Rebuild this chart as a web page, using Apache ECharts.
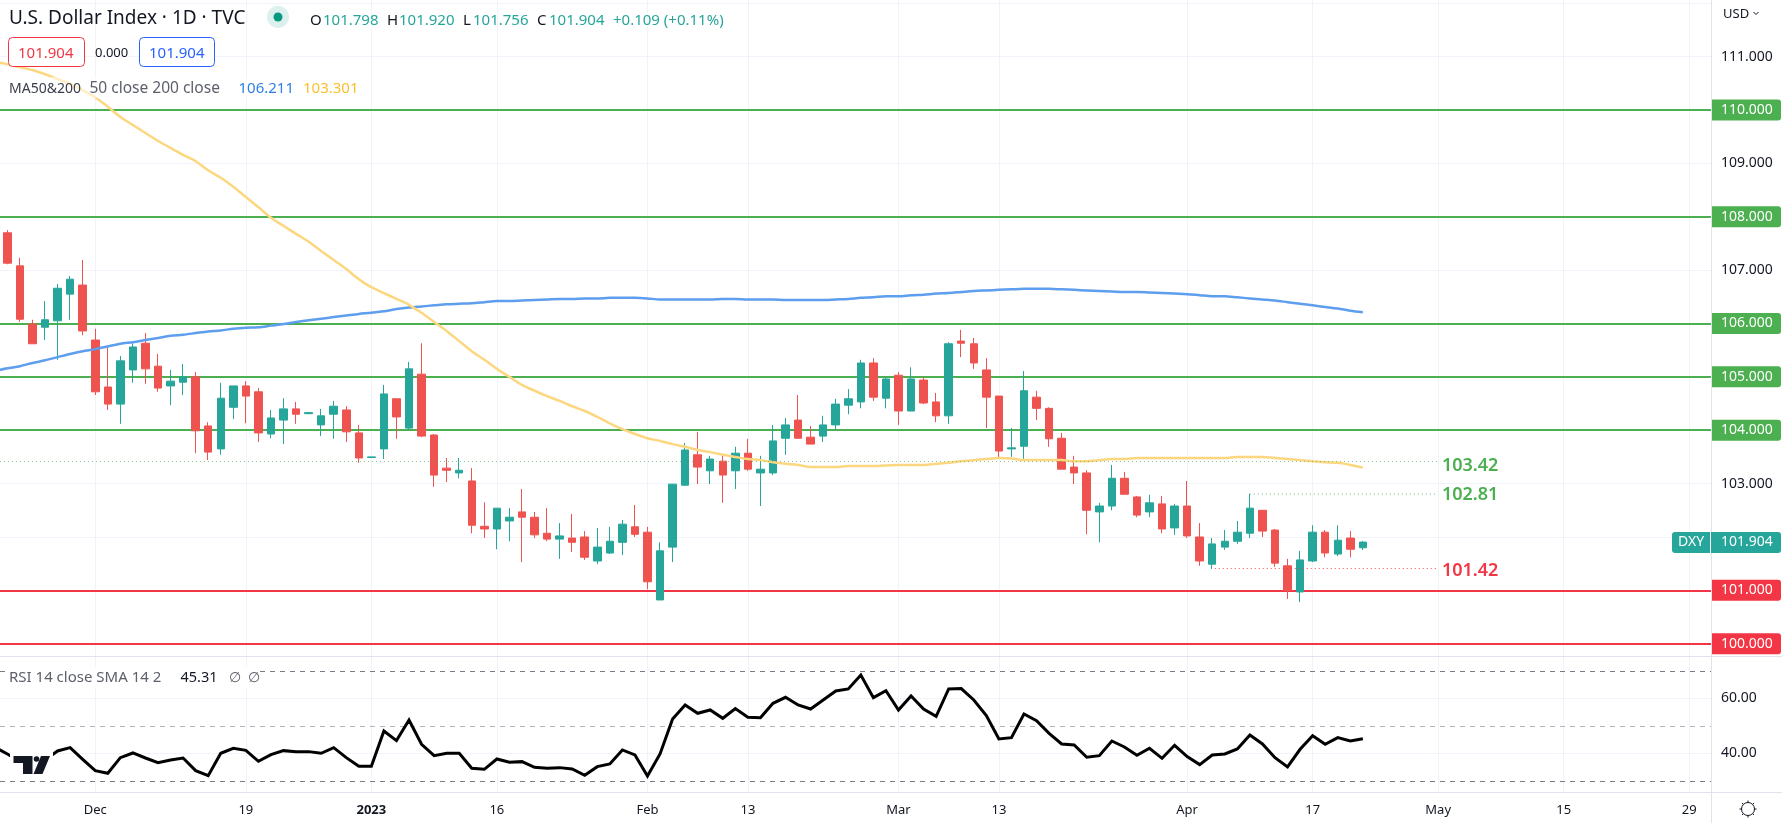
<!DOCTYPE html>
<html>
<head>
<meta charset="utf-8">
<title>U.S. Dollar Index</title>
<script src="https://cdn.jsdelivr.net/npm/echarts@6/dist/echarts.min.js"></script>
<style>
  html, body { margin: 0; padding: 0; background: #fff; }
  #chart { width: 1782px; height: 823px; }
</style>
</head>
<body>
<div id="chart"></div>
<script>
// daily candles, first one is 22 Nov 2022, last one 21 Apr 2023
var opens = [
  107.70,107.08,105.99,105.93,106.05,106.55,106.72,105.69,104.81,104.49,
  105.13,105.63,105.20,104.83,104.90,105.00,104.08,103.65,104.43,104.83,
  104.72,103.93,104.19,104.40,104.31,104.10,104.30,104.38,103.95,103.49,
  103.65,104.59,104.04,105.05,103.91,103.29,103.20,103.05,102.20,102.15,
  102.30,102.47,102.37,102.07,101.96,101.98,102.00,101.55,101.70,101.90,
  102.19,102.09,100.82,101.81,102.97,103.54,103.24,103.42,103.24,103.57,
  103.20,103.20,103.85,104.19,103.87,103.89,104.10,104.47,104.53,105.26,
  104.60,105.03,104.36,104.94,104.53,104.27,105.67,105.62,105.13,104.64,
  103.65,103.70,104.62,104.41,103.85,103.31,103.20,102.47,102.58,103.10,
  102.75,102.47,102.62,102.17,102.58,102.00,101.49,101.81,101.92,102.07,
  102.50,102.13,101.46,100.97,101.55,102.09,101.68,101.98,101.798
];
var closes = [
  107.13,106.08,105.62,106.07,106.66,106.83,105.86,104.72,104.49,105.30,
  105.56,105.15,104.79,104.92,105.00,103.99,103.59,104.60,104.83,104.64,
  103.95,104.23,104.40,104.30,104.33,104.27,104.45,103.97,103.48,103.50,
  104.68,104.25,105.15,103.89,103.16,103.25,103.25,102.22,102.15,102.54,
  102.37,102.37,102.04,101.96,102.02,101.90,101.62,101.81,101.92,102.24,
  102.05,101.16,101.74,102.99,103.63,103.31,103.46,103.16,103.57,103.27,
  103.27,103.80,104.10,103.85,103.74,104.10,104.49,104.59,105.26,104.62,
  104.96,104.36,104.96,104.51,104.27,105.62,105.63,105.26,104.62,103.61,
  103.67,104.74,104.41,103.84,103.27,103.20,102.50,102.58,103.10,102.80,
  102.41,102.64,102.15,102.58,102.02,101.55,101.87,101.92,102.09,102.54,
  102.11,101.51,101.00,101.57,102.09,101.70,101.94,101.77,101.904
];
var lows = [
  107.11,106.03,105.62,105.69,105.32,106.07,105.78,104.66,104.38,104.12,
  104.89,104.87,104.72,104.47,104.66,103.57,103.44,103.54,104.21,104.13,
  103.78,103.85,103.74,104.12,104.31,103.89,103.84,103.78,103.39,103.49,
  103.46,103.84,104.00,103.87,102.94,103.03,103.10,102.07,101.98,101.77,
  101.92,101.53,101.98,101.92,101.59,101.72,101.57,101.49,101.68,101.66,
  102.00,101.02,100.82,101.53,102.97,102.99,102.99,102.64,102.90,103.24,
  102.58,103.16,103.54,103.84,103.74,103.78,104.02,104.30,104.41,104.55,
  104.41,104.10,104.36,104.49,104.15,104.12,105.37,105.15,104.04,103.48,
  103.50,103.44,104.19,103.69,103.27,102.99,102.05,101.90,102.50,102.80,
  102.37,102.37,102.07,102.04,101.98,101.46,101.40,101.76,101.87,101.98,
  102.00,101.44,100.84,100.78,101.53,101.62,101.64,101.62,101.756
];
var highs = [
  107.75,107.23,106.07,106.42,106.74,106.89,107.19,105.90,105.58,105.39,
  105.63,105.82,105.43,105.13,105.24,105.09,104.15,104.89,104.83,104.92,
  104.79,104.38,104.60,104.53,104.33,104.40,104.55,104.45,104.10,103.50,
  104.85,104.59,105.28,105.63,103.93,103.48,103.48,103.29,102.65,102.54,
  102.54,102.90,102.47,102.54,102.26,102.43,102.11,102.17,102.19,102.32,
  102.60,102.19,101.90,102.99,103.76,103.97,103.52,103.55,103.69,103.84,
  103.52,104.10,104.23,104.66,104.08,104.27,104.59,104.77,105.32,105.35,
  105.00,105.09,105.18,105.00,104.70,105.65,105.88,105.73,105.35,104.64,
  104.04,105.11,104.74,104.43,103.95,103.52,103.25,102.64,103.35,103.22,
  102.77,102.79,102.77,102.62,103.05,102.26,101.98,102.13,102.30,102.81,
  102.50,102.15,101.59,101.74,102.22,102.13,102.22,102.11,101.920
];

// these three start one bar before the first candle, the line runs in from the left edge
var ma50 = [
  110.90,110.86,110.80,110.75,110.67,110.58,110.49,110.37,110.24,110.06,
  109.87,109.72,109.57,109.42,109.29,109.16,109.04,108.87,108.73,108.56,
  108.37,108.18,107.98,107.83,107.68,107.53,107.36,107.19,107.02,106.83,
  106.68,106.57,106.46,106.35,106.20,106.03,105.86,105.67,105.48,105.32,
  105.15,105.00,104.85,104.74,104.64,104.55,104.45,104.36,104.25,104.13,
  104.02,103.93,103.85,103.80,103.74,103.69,103.63,103.59,103.54,103.50,
  103.46,103.44,103.40,103.37,103.35,103.31,103.31,103.31,103.33,103.33,
  103.33,103.34,103.35,103.35,103.35,103.37,103.39,103.42,103.44,103.46,
  103.48,103.47,103.44,103.44,103.44,103.44,103.42,103.42,103.44,103.46,
  103.46,103.48,103.48,103.48,103.48,103.48,103.48,103.48,103.48,103.50,
  103.50,103.50,103.48,103.46,103.44,103.42,103.40,103.39,103.35,103.301
];
var ma200 = [
  105.11,105.16,105.20,105.26,105.31,105.37,105.43,105.48,105.52,105.57,
  105.62,105.65,105.69,105.73,105.77,105.79,105.82,105.85,105.87,105.90,
  105.92,105.93,105.96,105.99,106.03,106.06,106.09,106.12,106.15,106.18,
  106.20,106.23,106.27,106.30,106.32,106.34,106.36,106.37,106.38,106.40,
  106.42,106.42,106.43,106.44,106.45,106.46,106.46,106.47,106.47,106.48,
  106.48,106.48,106.47,106.45,106.45,106.45,106.45,106.45,106.46,106.46,
  106.45,106.45,106.45,106.44,106.44,106.44,106.44,106.45,106.46,106.48,
  106.49,106.51,106.51,106.53,106.54,106.56,106.57,106.59,106.61,106.62,
  106.63,106.64,106.65,106.65,106.65,106.64,106.63,106.62,106.61,106.60,
  106.59,106.59,106.58,106.57,106.56,106.55,106.53,106.51,106.51,106.49,
  106.47,106.45,106.43,106.40,106.37,106.34,106.31,106.28,106.24,106.211
];
var rsi = [
  42.18,39.76,36.97,35.76,37.58,40.85,42.06,37.82,33.70,32.73,
  38.42,40.12,38.30,36.61,37.58,38.30,33.70,31.88,40.00,41.82,
  41.09,37.09,39.52,40.97,40.61,40.61,40.00,42.06,38.42,35.27,
  35.27,48.12,44.61,52.12,43.27,39.15,40.00,40.00,34.55,34.18,
  37.94,36.73,36.97,34.91,34.55,34.79,34.30,32.00,35.15,36.12,
  41.21,39.39,31.76,39.76,52.48,57.58,54.55,55.76,52.73,56.24,
  53.09,52.97,58.18,60.36,57.58,56.12,59.39,62.67,63.39,68.48,
  60.24,62.79,55.76,60.85,56.12,53.45,63.39,63.52,59.39,53.70,
  45.21,45.70,54.30,51.88,47.27,43.39,43.03,38.55,39.15,44.48,
  42.30,39.27,41.82,38.18,42.91,38.79,35.88,39.39,39.76,41.58,
  46.67,43.39,38.42,35.03,41.45,46.42,43.27,45.70,44.48,45.31
];

var tickBars = [7, 19, 29, 39, 51, 59, 71, 79, 94, 104, 114, 124, 134];
var tickLabels = ['Dec', '19', '2023', '16', 'Feb', '13', 'Mar', '13', 'Apr', '17', 'May', '15', '29'];

var priceGridTicks = [100, 101, 102, 103, 104, 105, 106, 107, 108, 109, 110, 111, 112];
var priceLabelTicks = [103, 107, 109, 111];
var rsiGridTicks = [40, 60];
var rsiBands = [70, 50, 30];

var greenLevels = [110, 108, 106, 105, 104];
var redLevels = [101, 100];
var lastClose = '101.904';

var FONT = '"Noto Sans", sans-serif';
var GREEN = '#4caf50', RED = '#f23645', TEAL = '#26a69a', CANDLE_RED = '#ef5350', INK = '#131722';

var AXIS_MIN = -0.59, AXIS_MAX = 135.74;

function tagLabel(value, color) {
  return {
    show: true, position: 'end', distance: 0,
    formatter: value.toFixed(3),
    color: '#fff', fontFamily: FONT, fontSize: 14,
    backgroundColor: color, borderRadius: [0, 3, 3, 0],
    padding: [1, 8, 1, 10], width: 52, height: 19, lineHeight: 19, align: 'left'
  };
}

function levelLine(value, color) {
  return { yAxis: value, lineStyle: { color: color, width: 2, type: 'solid' }, label: tagLabel(value, color) };
}

function noteLine(fromBar, toBar, value, lineColor, labelColor, width, labelShift) {
  return [
    { coord: [fromBar, value], lineStyle: { color: lineColor, width: width, type: [1, 3] },
      label: { show: true, position: 'end', distance: 5, formatter: value.toFixed(2), color: labelColor,
               fontFamily: FONT, fontSize: 18, fontWeight: 600, offset: [0, labelShift] } },
    { coord: [toBar, value] }
  ];
}

function text(x, y, str, color, size) {
  return {
    type: 'text', x: x, y: y, z: 100, silent: true,
    style: { text: str, fill: color, font: (size || 14) + 'px "Noto Sans", sans-serif', textVerticalAlign: 'middle' }
  };
}

function box(x, w, color) {
  return { type: 'rect', z: 99, silent: true, shape: { x: x + 0.5, y: 37.5, width: w, height: 29, r: 4 },
           style: { fill: '#fff', stroke: color, lineWidth: 1 } };
}

function border(x1, y1, x2, y2) {
  return { type: 'line', z: 90, silent: true, shape: { x1: x1, y1: y1, x2: x2, y2: y2 }, style: { stroke: '#e0e3eb', lineWidth: 1 } };
}

function gearTooth(x1, y1, x2, y2) {
  return { type: 'line', z: 100, silent: true, shape: { x1: x1, y1: y1, x2: x2, y2: y2 }, style: { stroke: INK, lineWidth: 1 } };
}

var graphics = [
  border(1711.5, 0, 1711.5, 823),
  border(0, 656.5, 1782, 656.5),
  border(0, 792.5, 1782, 792.5),

  text(9, 19, 'U.S. Dollar Index · 1D · TVC', INK, 19),
  { type: 'circle', z: 100, silent: true, shape: { cx: 278, cy: 17, r: 11 }, style: { fill: 'rgba(8,153,129,0.14)' } },
  { type: 'circle', z: 100, silent: true, shape: { cx: 278, cy: 17, r: 4.5 }, style: { fill: '#089981' } },

  text(310, 21, 'O', INK, 15), text(323, 21, '101.798', TEAL, 15),
  text(387, 21, 'H', INK, 15), text(399, 21, '101.920', TEAL, 15),
  text(463, 21, 'L', INK, 15), text(473, 21, '101.756', TEAL, 15),
  text(537, 21, 'C', INK, 15), text(549, 21, '101.904', TEAL, 15),
  text(613, 21, '+0.109 (+0.11%)', TEAL, 15),

  box(8, 76, RED), text(18, 53.5, '101.904', RED, 15),
  text(95, 53, '0.000', INK, 13),
  box(139, 75, '#2962ff'), text(149, 53.5, '101.904', '#2962ff', 15),

  // the legends fade what runs behind them
  { type: 'rect', z: 98, silent: true, shape: { x: 9, y: 77, width: 355, height: 21 }, style: { fill: 'rgba(255,255,255,0.55)' } },
  text(9, 89, 'MA50&200', '#3a3e4a', 14),
  text(89.5, 89, '50 close 200 close', '#5d606b', 15.5),
  text(238.5, 89, '106.211', '#2f7fe8', 15),
  text(303, 89, '103.301', '#fbc02d', 15),

  { type: 'rect', z: 98, silent: true, shape: { x: 9, y: 667, width: 250, height: 21 }, style: { fill: '#fff' } },
  text(9, 678, 'RSI 14 close SMA 14 2', '#5d606b', 15),
  text(180.5, 678, '45.31', INK, 14.5),
  text(229, 678, '∅', '#5d606b', 14),
  text(247.5, 678, '∅', '#5d606b', 14),

  text(1723, 14, 'USD', INK, 13),
  { type: 'polyline', z: 100, silent: true, shape: { points: [[1753.5, 12], [1756, 14.5], [1758.5, 12]] }, style: { fill: 'none', stroke: INK, lineWidth: 1 } },

  // last price tag and the DXY name next to it
  { type: 'rect', z: 100, silent: true, shape: { x: 1672, y: 532, width: 38, height: 21, r: [3, 0, 0, 3] }, style: { fill: TEAL } },
  text(1678, 542.5, 'DXY', '#fff', 14),
  { type: 'rect', z: 100, silent: true, shape: { x: 1711, y: 532, width: 70, height: 21, r: [0, 3, 3, 0] }, style: { fill: TEAL } },
  text(1721, 542.5, lastClose, '#fff', 14),

  // settings gear
  { type: 'circle', z: 100, silent: true, shape: { cx: 1748, cy: 809, r: 6.5 }, style: { fill: 'none', stroke: INK, lineWidth: 1 } },
  gearTooth(1748, 800.5, 1748, 802.5), gearTooth(1748, 815.5, 1748, 817.5),
  gearTooth(1739.5, 809, 1741.5, 809), gearTooth(1754.5, 809, 1756.5, 809),
  gearTooth(1742, 803, 1743.4, 804.4), gearTooth(1752.6, 813.6, 1754, 815),
  gearTooth(1742, 815, 1743.4, 813.6), gearTooth(1752.6, 804.4, 1754, 803),

  // tradingview logo, it sits on top of the rsi line
  { type: 'rect', z: 95, silent: true, shape: { x: 10, y: 752, width: 43, height: 26 }, style: { fill: '#fff' } },
  { type: 'polygon', z: 96, silent: true, shape: { points: [[13.5, 756], [32.5, 756], [32.5, 774], [23, 774], [23, 763], [13.5, 763]] }, style: { fill: INK } },
  { type: 'circle', z: 96, silent: true, shape: { cx: 36.5, cy: 759, r: 2.8 }, style: { fill: INK } },
  { type: 'polygon', z: 96, silent: true, shape: { points: [[41, 756], [50, 756], [42.5, 774], [33.5, 774]] }, style: { fill: INK } }
];

var chart = echarts.init(document.getElementById('chart'), null, { renderer: 'canvas' });

var gridLine = { show: true, lineStyle: { color: '#f0f3fa', width: 1 } };

function timeAxis(gridIndex, showLabels) {
  return {
    type: 'value', gridIndex: gridIndex,
    min: AXIS_MIN, max: AXIS_MAX,
    axisLine: { show: false },
    axisTick: { show: false, customValues: tickBars },
    splitLine: gridLine,
    axisLabel: {
      show: showLabels, customValues: tickBars, margin: 12, hideOverlap: false,
      showMinLabel: true, showMaxLabel: true,
      fontFamily: FONT, fontSize: 13, color: INK,
      formatter: function (v) {
        var s = tickLabels[tickBars.indexOf(v)];
        return s === '2023' ? '{b|' + s + '}' : s;
      },
      rich: { b: { fontFamily: FONT, fontSize: 13, fontWeight: 'bold', color: INK } }
    }
  };
}

chart.setOption({
  animation: false,
  backgroundColor: '#fff',
  textStyle: { fontFamily: FONT },
  grid: [
    { left: 0, top: 0, width: 1711, height: 656 },
    { left: 0, top: 656, width: 1711, height: 136 }
  ],
  xAxis: [timeAxis(0, false), timeAxis(1, true)],
  yAxis: [
    {
      type: 'value', gridIndex: 0, position: 'right',
      min: 99.77, max: 112.061,
      axisLine: { show: false },
      axisTick: { show: false, customValues: priceGridTicks },
      splitLine: gridLine,
      axisLabel: {
        customValues: priceLabelTicks, margin: 10, fontFamily: FONT, fontSize: 14, color: INK,
        showMinLabel: true, showMaxLabel: true,
        formatter: function (v) { return v.toFixed(3); }
      }
    },
    {
      type: 'value', gridIndex: 1, position: 'right',
      min: 25.93, max: 75.38,
      axisLine: { show: false },
      axisTick: { show: false, customValues: rsiGridTicks },
      splitLine: gridLine,
      axisLabel: {
        customValues: rsiGridTicks, margin: 10, fontFamily: FONT, fontSize: 14, color: INK,
        formatter: function (v) { return v.toFixed(2); }
      }
    }
  ],
  graphic: graphics,
  series: [
    {
      name: 'DXY', type: 'candlestick', xAxisIndex: 0, yAxisIndex: 0, z: 3,
      barWidth: 8,
      encode: { x: 0, y: [1, 2, 3, 4] },
      itemStyle: { color: TEAL, color0: CANDLE_RED, borderColor: TEAL, borderColor0: CANDLE_RED, borderWidth: 1 },
      data: opens.map(function (o, i) { return [i, o, closes[i], lows[i], highs[i]]; })
    },
    {
      name: 'MA 200', type: 'line', xAxisIndex: 0, yAxisIndex: 0, z: 4,
      showSymbol: false, symbol: 'none', smooth: 0.3,
      lineStyle: { color: '#5e9eee', width: 2.5 },
      data: ma200.map(function (v, i) { return [i - 1, v]; }),
      // level lines hang off this series but stay under the candles
      markLine: {
        z: 1, silent: true, symbol: 'none', animation: false,
        data: greenLevels.map(function (v) { return levelLine(v, GREEN); })
          .concat(redLevels.map(function (v) { return levelLine(v, RED); }))
      }
    },
    {
      name: 'MA 50', type: 'line', xAxisIndex: 0, yAxisIndex: 0, z: 4,
      showSymbol: false, symbol: 'none', smooth: 0.3,
      lineStyle: { color: '#fdd77f', width: 2.5 },
      data: ma50.map(function (v, i) { return [i - 1, v]; }),
      markLine: {
        z: 5, silent: true, symbol: 'none', animation: false,
        data: [
          noteLine(AXIS_MIN, 113.9, 103.42, 'rgba(76,175,80,0.65)', GREEN, 1, 5),
          noteLine(99, 113.9, 102.81, 'rgba(76,175,80,0.5)', GREEN, 1.5, 1),
          noteLine(96.2, 113.9, 101.42, 'rgba(242,54,69,0.9)', RED, 1, 3)
        ]
      }
    },
    {
      name: 'RSI', type: 'line', xAxisIndex: 1, yAxisIndex: 1, z: 4,
      showSymbol: false, symbol: 'none',
      lineStyle: { color: '#000', width: 3, join: 'miter' },
      data: rsi.map(function (v, i) { return [i - 1, v]; }),
      markLine: {
        z: 1, silent: true, symbol: 'none', animation: false, label: { show: false },
        data: rsiBands.map(function (v) {
          return { yAxis: v, lineStyle: { color: v === 50 ? '#b2b5be' : '#787b86', width: 1, type: [5, 5] } };
        })
      }
    }
  ]
});
</script>
</body>
</html>
